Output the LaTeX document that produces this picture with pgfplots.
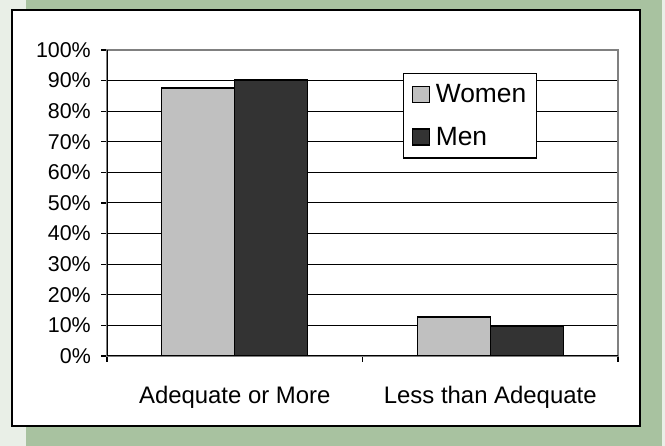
\documentclass[border=0pt]{standalone}
\usepackage{pgfplots}
\pgfplotsset{compat=1.18}
\usepackage{fontspec}
\setmainfont{Liberation Sans}
\definecolor{bggreen}{HTML}{A8C2A0}
\definecolor{bglight}{HTML}{E9EFE7}
\definecolor{women}{HTML}{C0C0C0}
\definecolor{men}{HTML}{333333}
\begin{document}
\begin{tikzpicture}[x=1bp,y=1bp]
\fill[bglight] (0,0) rectangle (665,446);
\fill[bggreen] (26,0) rectangle (662,446);
\draw[line width=2bp, fill=white] (12,20) rectangle (640,436);
\begin{axis}[
  at={(107bp,90bp)}, anchor=south west,
  scale only axis, width=511bp, height=306bp,
  xmin=-0.5, xmax=1.5, ymin=0, ymax=100,
  ybar=0pt, bar width=73bp,
  ytick={0,10,...,100},
  yticklabels={0\%,10\%,20\%,30\%,40\%,50\%,60\%,70\%,80\%,90\%,100\%},
  xtick={-0.5,0.5,1.5}, xticklabels={},
  extra x ticks={0,1},
  extra x tick labels={Adequate or More,Less than Adequate},
  extra x tick style={tick style={draw=none}},
  xtick pos=bottom, ytick pos=left,
  tick align=outside, major tick length=6bp,
  ymajorgrids, grid style={black, line width=1bp},
  axis line style={gray, line width=1.2bp},
  tick style={black, line width=1.3bp},
  yticklabel style={font=\fontsize{21.5}{21.5}\selectfont, inner sep=0pt, anchor=east, xshift=-10bp},
  xticklabel style={font=\fontsize{24}{24}\selectfont, inner sep=0pt, anchor=north, yshift=-24bp},
  legend style={at={(0.579,0.925)}, anchor=north west, draw=black, line width=1.3bp,
    fill=white, font=\fontsize{26.5}{26.5}\selectfont, inner xsep=8bp, inner ysep=9bp,
    row sep=19bp, nodes={inner sep=2bp}},
  legend cell align=left,
  legend image code/.code={\draw[#1, line width=1.3bp] (0bp,-8bp) rectangle (17bp,8bp); \path (21bp,0bp);},
]
\addplot[fill=women, draw=black, line width=1.3bp] coordinates {(0,87.6) (1,12.7)};
\addplot[fill=men, draw=black, line width=1.3bp] coordinates {(0,90.2) (1,9.8)};
\legend{Women,Men}
\draw[black, line width=1.3bp] (rel axis cs:0,1) -- (rel axis cs:0,0) -- (rel axis cs:1,0);
\end{axis}
\pgfresetboundingbox
\useasboundingbox (0,0) rectangle (665,446);
\end{tikzpicture}
\end{document}
